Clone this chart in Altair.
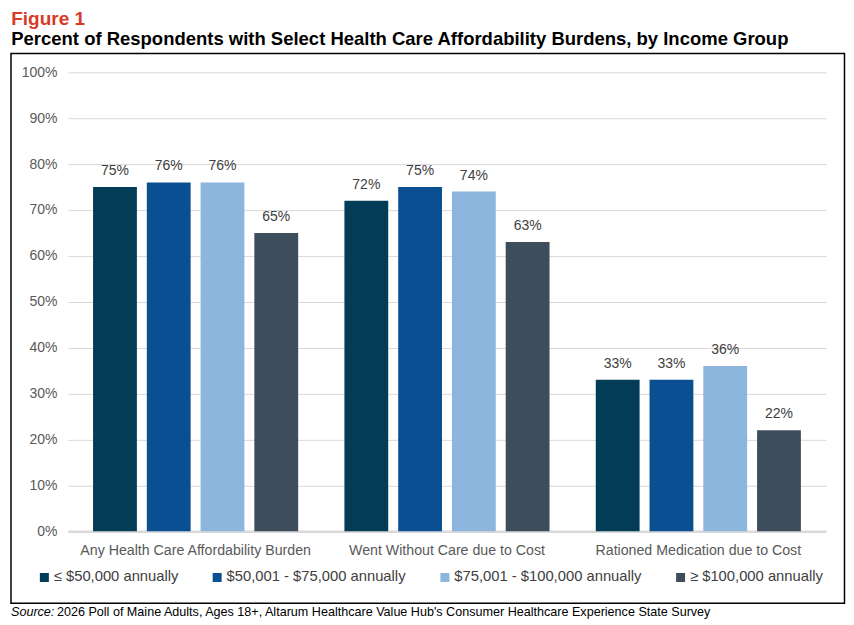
import altair as alt
import pandas as pd

categories = ["Any Health Care Affordability Burden", "Went Without Care due to Cost", "Rationed Medication due to Cost"]
groups = ["≤ $50,000 annually", "$50,001 - $75,000 annually", "$75,001 - $100,000 annually", "≥ $100,000 annually"]
le50 = [0.75, 0.72, 0.33]
g50_75 = [0.76, 0.75, 0.33]
g75_100 = [0.76, 0.74, 0.36]
ge100 = [0.65, 0.63, 0.22]
colors = ["#023C57", "#0A4F92", "#8CB6DD", "#3E4D5C"]
y_ticks = [0, 0.1, 0.2, 0.3, 0.4, 0.5, 0.6, 0.7, 0.8, 0.9, 1.0]

rows = []
for g, vals in zip(groups, [le50, g50_75, g75_100, ge100]):
    for c, v in zip(categories, vals):
        rows.append({"category": c, "group": g, "value": v})
df = pd.DataFrame(rows)

FONT = "Liberation Sans"

x_enc = alt.X("category:N", sort=categories, title=None,
              scale=alt.Scale(paddingInner=0.184, paddingOuter=0.1),
              axis=alt.Axis(labelAngle=0, labelFontSize=14.2, labelColor="#595959", labelFont=FONT,
                            labelPadding=12, labelLimit=400, ticks=False,
                            domainColor="#D9D9D9", domainWidth=2.5))
xo_enc = alt.XOffset("group:N", sort=groups, scale=alt.Scale(paddingInner=0.185))
y_enc = alt.Y("value:Q", title=None, scale=alt.Scale(domain=[0, 1]),
              axis=alt.Axis(values=y_ticks, format=".0%", labelFontSize=14, labelColor="#595959",
                            labelFont=FONT, labelPadding=11, ticks=False, domain=False,
                            gridColor="#D9D9D9", gridWidth=1))

base = alt.Chart(df)

bars = base.mark_bar().encode(
    x=x_enc, xOffset=xo_enc, y=y_enc,
    color=alt.Color("group:N", sort=groups, scale=alt.Scale(domain=groups, range=colors),
                    legend=alt.Legend(title=None, orient="none", direction="horizontal",
                                      legendX=-31, legendY=498, symbolType="square",
                                      symbolSize=81, symbolStrokeWidth=0, labelFontSize=14.8,
                                      labelColor="#404040", labelFont=FONT, labelOffset=2,
                                      columnPadding=31, labelLimit=400))
)

labels = base.mark_text(baseline="bottom", dy=-9, fontSize=14, color="#404040", font=FONT).encode(
    x=x_enc, xOffset=xo_enc, y=y_enc, text=alt.Text("value:Q", format=".0%")
)

one = alt.Data(values=[{"t": 1}])
frame = alt.Chart(one).mark_rect(filled=False, stroke="#000000", strokeWidth=1.5).encode(
    x=alt.value(-57), x2=alt.value(777.5), y=alt.value(-18.8), y2=alt.value(531.5)
)
src1 = alt.Chart(one).mark_text(align="left", baseline="alphabetic", fontSize=12.6, fontStyle="italic",
                                font=FONT, color="#000000").encode(
    x=alt.value(-57), y=alt.value(544), text=alt.value("Source:")
)
src2 = alt.Chart(one).mark_text(align="left", baseline="alphabetic", fontSize=12.6,
                                font=FONT, color="#000000").encode(
    x=alt.value(-11), y=alt.value(544),
    text=alt.value("2026 Poll of Maine Adults, Ages 18+, Altarum Healthcare Value Hub's Consumer Healthcare Experience State Survey")
)

chart = alt.layer(frame, bars, labels, src1, src2).properties(
    width=759, height=459.5,
    padding={"left": 2, "top": 1, "right": 0, "bottom": 0},
    title=alt.TitleParams(
        text="Figure 1",
        subtitle="Percent of Respondents with Select Health Care Affordability Burdens, by Income Group",
        anchor="start", frame="bounds", dx=1, offset=4.2,
        font=FONT, fontSize=19, fontWeight="bold", color="#D93A26",
        subtitleFont=FONT, subtitleFontSize=18.5,
        subtitleFontWeight="bold", subtitleColor="#000000", subtitlePadding=1,
    ),
).configure_view(stroke="transparent")

chart.save("out.html", embed_options={"renderer": "svg", "actions": False})
